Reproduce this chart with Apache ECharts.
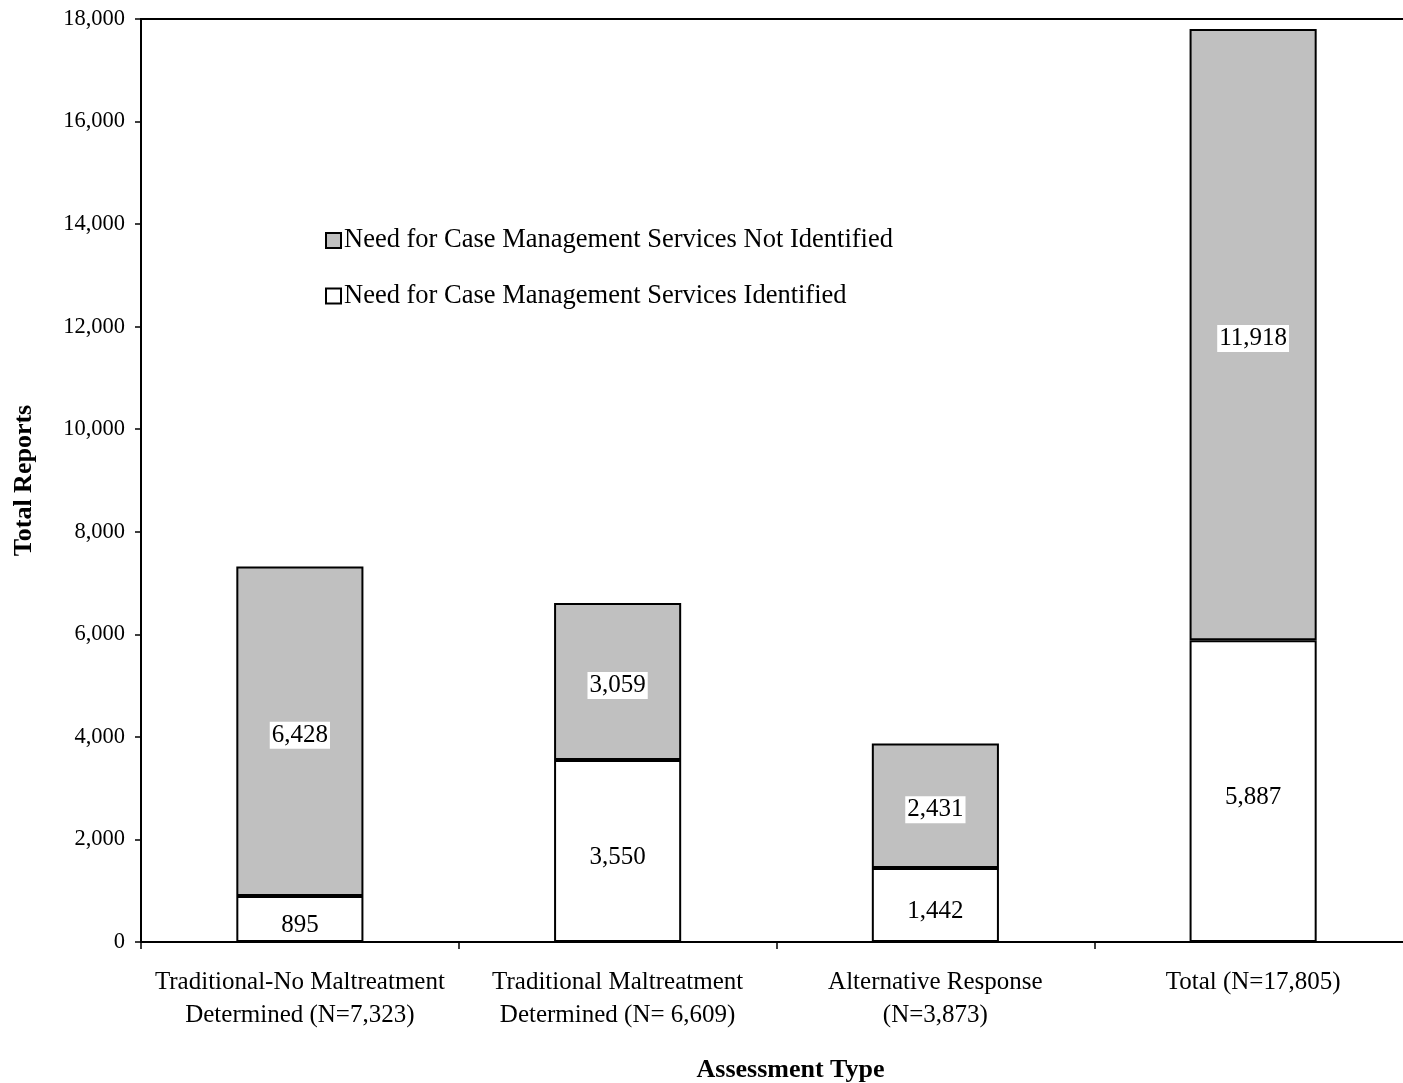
<!DOCTYPE html>
<html>
<head>
<meta charset="utf-8">
<script src="https://cdn.jsdelivr.net/npm/echarts@6/dist/echarts.min.js"></script>
<style>html,body{margin:0;padding:0;background:#fff;}#c{width:1403px;height:1083px;}</style>
</head>
<body>
<div id="c"></div>
<script>
const categories = [
  'Traditional-No Maltreatment\nDetermined (N=7,323)',
  'Traditional Maltreatment\nDetermined (N= 6,609)',
  'Alternative Response\n(N=3,873)',
  'Total (N=17,805)'
];
const identified = [895, 3550, 1442, 5887];
const notIdentified = [6428, 3059, 2431, 11918];
const seriesNames = ['Need for Case Management Services Identified', 'Need for Case Management Services Not Identified'];
const yTicks = { min: 0, max: 18000, interval: 2000 };

const FONT = '"Liberation Serif", "Times New Roman", serif';
const chart = echarts.init(document.getElementById('c'), null, { renderer: 'canvas' });
const fmt = v => v.toLocaleString('en-US');

chart.setOption({
  animation: false,
  backgroundColor: '#fff',
  textStyle: { fontFamily: FONT, color: '#000' },
  grid: { left: 141, top: 19, width: 1271, height: 923, outerBoundsMode: 'none', containLabel: false, show: true, borderColor: '#000', borderWidth: 2, backgroundColor: 'transparent' },
  legend: {
    data: [seriesNames[1], seriesNames[0]],
    orient: 'vertical',
    left: 320,
    top: 222,
    itemWidth: 15,
    itemHeight: 15,
    itemGap: 28.5,
    icon: 'rect',
    textStyle: { fontFamily: FONT, fontSize: 26.5, color: '#000', padding: [0, 0, 0, -2] }
  },
  xAxis: {
    type: 'category',
    data: categories,
    name: 'Assessment Type',
    nameLocation: 'middle',
    nameGap: 115,
    nameTextStyle: { fontFamily: FONT, fontSize: 26, fontWeight: 'bold', color: '#000', padding: [0, 0, 0, 28] },
    axisLine: { lineStyle: { color: '#000', width: 2 } },
    axisTick: { show: true, length: 7, lineStyle: { color: '#000', width: 1.5 } },
    axisLabel: { fontFamily: FONT, fontSize: 25, color: '#000', margin: 24, lineHeight: 33, interval: 0 }
  },
  yAxis: {
    type: 'value',
    min: yTicks.min, max: yTicks.max, interval: yTicks.interval,
    name: 'Total Reports',
    nameLocation: 'middle',
    nameGap: 104,
    nameRotate: 90,
    nameTextStyle: { fontFamily: FONT, fontSize: 26, fontWeight: 'bold', color: '#000' },
    axisLine: { show: true, lineStyle: { color: '#000', width: 2 } },
    axisTick: { show: true, length: 6, lineStyle: { color: '#000', width: 1.5 } },
    splitLine: { show: false },
    axisLabel: { fontFamily: FONT, fontSize: 22.5, color: '#000', margin: 16, formatter: v => fmt(v) }
  },
  series: [
    {
      name: seriesNames[0],
      type: 'bar',
      stack: 'a',
      data: identified,
      barWidth: '40%',
      itemStyle: { color: '#ffffff', borderColor: '#000', borderWidth: 2 },
      label: { show: true, position: 'inside', fontFamily: FONT, fontSize: 25, color: '#000', formatter: p => fmt(p.value), offset: [0, 6] }
    },
    {
      name: seriesNames[1],
      type: 'bar',
      stack: 'a',
      data: notIdentified,
      barWidth: '40%',
      itemStyle: { color: '#c0c0c0', borderColor: '#000', borderWidth: 2 },
      label: { show: true, position: 'inside', fontFamily: FONT, fontSize: 25, color: '#000', backgroundColor: '#fff', padding: [2, 2, 0, 2], formatter: p => fmt(p.value), offset: [0, 4] }
    }
  ]
});
</script>
</body>
</html>
